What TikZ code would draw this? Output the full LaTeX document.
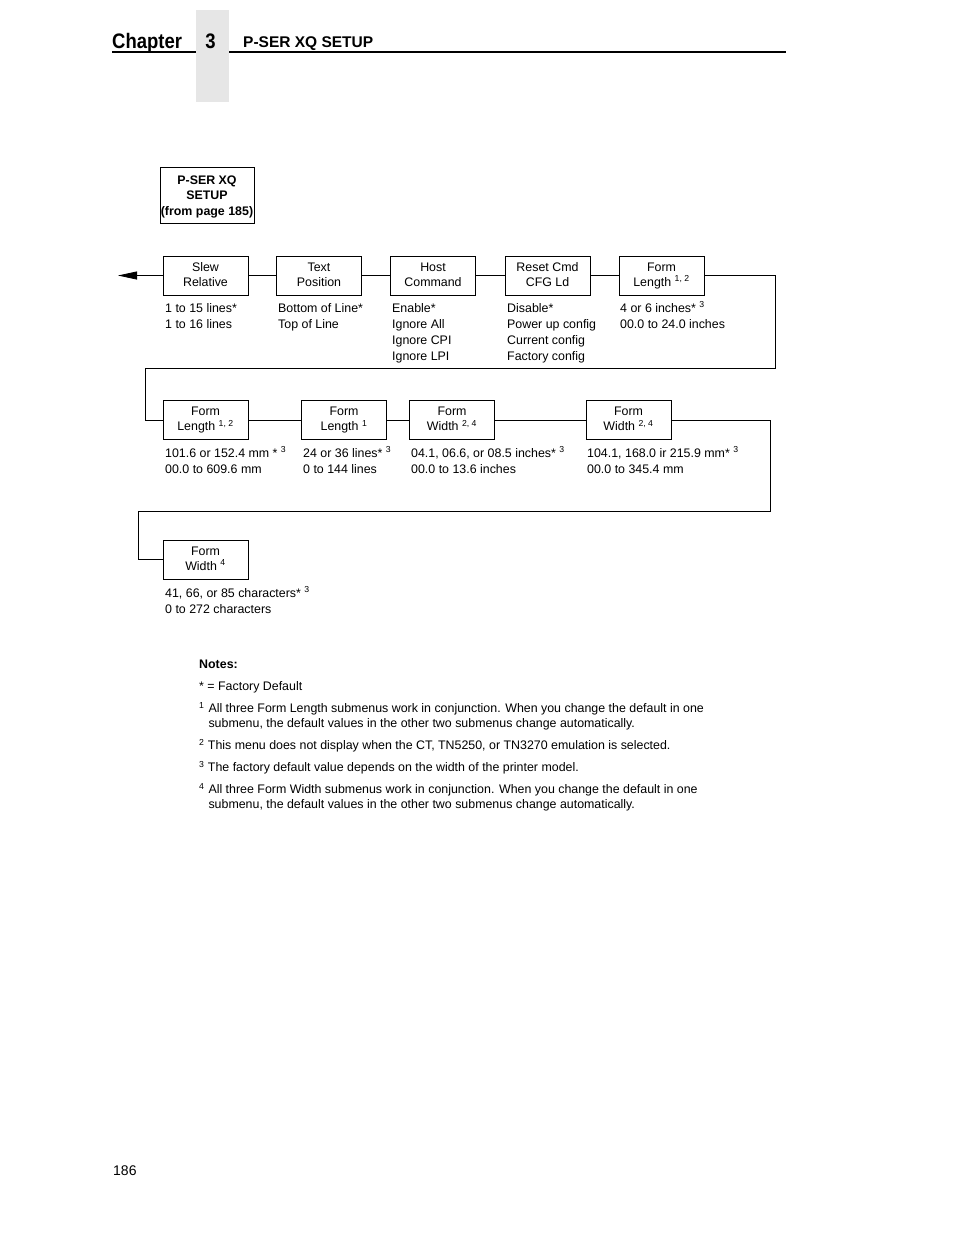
\documentclass[tikz,border=0pt]{standalone}
\usepackage{fontspec}
\setmainfont{Liberation Sans}
\usetikzlibrary{arrows.meta}
\definecolor{tabgray}{HTML}{E6E6E6}
\tikzset{
  menu/.style={draw, line width=0.8pt, minimum width=85pt, minimum height=39pt,
    inner sep=0pt, align=center, text depth=5pt, font=\fontsize{12.4}{15}\selectfont},
  vals/.style={anchor=north west, inner sep=0pt, align=left,
    font=\fontsize{12.4}{16}\selectfont},
  note/.style={anchor=base west, inner sep=0pt, font=\fontsize{12.4}{15}\selectfont},
  link/.style={line width=0.8pt}
}
\newcommand{\fnum}[1]{\textsuperscript{#1}}
\newcommand{\tstrut}{\rule{0pt}{11.5pt}}
\begin{document}
\begin{tikzpicture}[x=1pt,y=-1pt]
\useasboundingbox (0,0) rectangle (954,1235);
\draw[line width=2pt] (112,51.5) -- (786,51.5);
\fill[tabgray] (196,10) rectangle (229,102);
\node[anchor=base west, inner sep=0pt, font=\fontsize{21}{21}\selectfont\bfseries] (chap) at (112,48) {\scalebox{0.88}[1]{Chapter}};
\node[anchor=base, inner sep=0pt, font=\fontsize{21}{21}\selectfont\bfseries] (chapnum) at (210.5,48) {\scalebox{0.88}[1]{3}};
\node[anchor=base west, inner sep=0pt, font=\fontsize{15.5}{15.5}\selectfont\bfseries] (title) at (243,47) {P-SER XQ SETUP};
\node[draw, line width=0.8pt, minimum width=94pt, minimum height=56pt, inner sep=0pt, align=center,
  text depth=0pt, font=\fontsize{12.4}{15.5}\selectfont\bfseries] (start) at (207,195.5) {P-SER XQ\\SETUP\\(from page 185)};
\node[menu] (slew) at (205.5,275.5) {\tstrut Slew\\Relative};
\node[menu] (textpos) at (319,275.5) {\tstrut Text\\Position};
\node[menu] (hostcmd) at (433,275.5) {\tstrut Host\\Command};
\node[menu] (resetcmd) at (547.5,275.5) {\tstrut Reset Cmd\\CFG Ld};
\node[menu] (flenin) at (661.5,275.5) {\tstrut Form\\Length \fnum{1, 2}};
\node[vals] (slewv) at (165,300.5) {\tstrut 1 to 15 lines*\\1 to 16 lines};
\node[vals] (textposv) at (278,300.5) {\tstrut Bottom of Line*\\Top of Line};
\node[vals] (hostcmdv) at (392,300.5) {\tstrut Enable*\\Ignore All\\Ignore CPI\\Ignore LPI};
\node[vals] (resetcmdv) at (507,300.5) {\tstrut Disable*\\Power up config\\Current config\\Factory config};
\node[vals] (fleninv) at (620,300.5) {\tstrut 4 or 6 inches* \fnum{3}\\00.0 to 24.0 inches};
\coordinate (back) at (118,275.5);
\draw[link, -{Triangle[length=19pt,width=8pt]}] (slew.west) -- (back);
\draw[link] (slew) -- (textpos) -- (hostcmd) -- (resetcmd) -- (flenin);
\node[menu] (flenmm) at (205.5,420) {\tstrut Form\\Length \fnum{1, 2}};
\node[menu] (flenln) at (344,420) {\tstrut Form\\Length \fnum{1}};
\node[menu] (fwin) at (452,420) {\tstrut Form\\Width \fnum{2, 4}};
\node[menu] (fwmm) at (628.5,420) {\tstrut Form\\Width \fnum{2, 4}};
\node[vals] (flenmmv) at (165,445.5) {\tstrut 101.6 or 152.4 mm * \fnum{3}\\00.0 to 609.6 mm};
\node[vals] (flenlnv) at (303,445.5) {\tstrut 24 or 36 lines* \fnum{3}\\0 to 144 lines};
\node[vals] (fwinv) at (411,445.5) {\tstrut 04.1, 06.6, or 08.5 inches* \fnum{3}\\00.0 to 13.6 inches};
\node[vals] (fwmmv) at (587,445.5) {\tstrut 104.1, 168.0 ir 215.9 mm* \fnum{3}\\00.0 to 345.4 mm};
\coordinate (r1) at (775,368);
\coordinate (l1) at (145,368);
\draw[link] (flenin.east) -| (r1) -- (l1) |- (flenmm.west);
\draw[link] (flenmm) -- (flenln) -- (fwin) -- (fwmm);
\node[menu] (fwch) at (205.5,559.5) {\tstrut Form\\Width \fnum{4}};
\node[vals] (fwchv) at (165,585.5) {\tstrut 41, 66, or 85 characters* \fnum{3}\\0 to 272 characters};
\coordinate (r2) at (770,511);
\coordinate (l2) at (138,511);
\draw[link] (fwmm.east) -| (r2) -- (l2) |- (fwch.west);
\node[note, font=\fontsize{12.4}{15}\selectfont\bfseries] (notes) at (199,668) {Notes:};
\node[note] (n0) at (199,690.5) {* = Factory Default};
\node[note] (n1) at (199,712.5) {\begin{tabular}[t]{@{}l@{\hspace{4pt}}l@{}}\fnum{1} & All three Form Length submenus work in conjunction. When you change the default in one\\ & submenu, the default values in the other two submenus change automatically.\end{tabular}};
\node[note] (n2) at (199,749.5) {\fnum{2} This menu does not display when the CT, TN5250, or TN3270 emulation is selected.};
\node[note] (n3) at (199,771.5) {\fnum{3} The factory default value depends on the width of the printer model.};
\node[note] (n4) at (199,793.5) {\begin{tabular}[t]{@{}l@{\hspace{4pt}}l@{}}\fnum{4} & All three Form Width submenus work in conjunction. When you change the default in one\\ & submenu, the default values in the other two submenus change automatically.\end{tabular}};
\node[anchor=base west, inner sep=0pt, font=\fontsize{14}{14}\selectfont] (pagenum) at (113,1175) {186};
\end{tikzpicture}
\end{document}
